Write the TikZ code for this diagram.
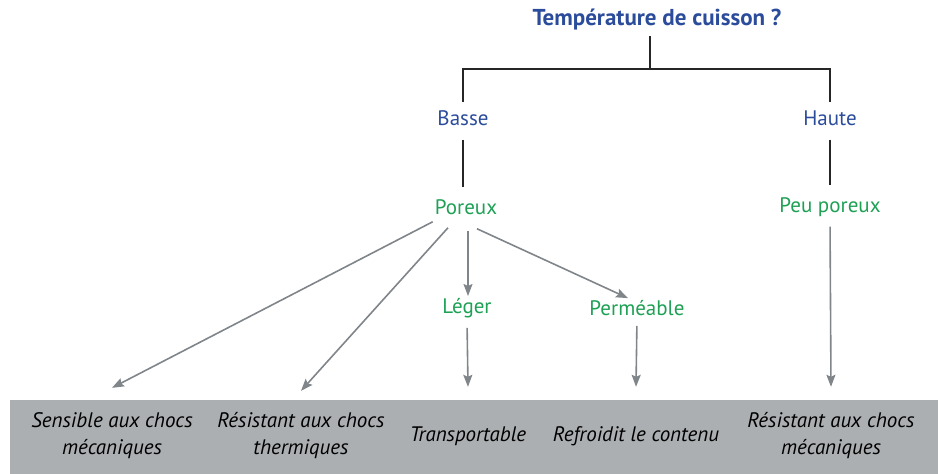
\documentclass[tikz,border=0pt]{standalone}
\usepackage{fontspec}
\setmainfont{PT Sans}
\usepackage{tikz}
\usetikzlibrary{arrows.meta, positioning}

\definecolor{bleutitre}{RGB}{43,75,155}
\definecolor{vertprop}{RGB}{30,160,85}
\definecolor{grisfleche}{RGB}{128,133,137}
\definecolor{grisbande}{RGB}{171,175,177}

\begin{document}
\begin{tikzpicture}[
    x=1pt, y=-1pt,
    % Text styles
    question/.style={font=\fontsize{23}{26}\selectfont\bfseries, text=bleutitre, inner sep=2pt},
    niveau/.style={font=\fontsize{21}{25}\selectfont, text=bleutitre, inner sep=2pt},
    propriete/.style={font=\fontsize{21}{25}\selectfont, text=vertprop, inner sep=2pt},
    consequence/.style={
        font=\fontsize{21}{27}\selectfont\itshape,
        align=center,
        minimum height=72pt,
        inner sep=0pt
    },
    % Connector styles
    trait/.style={draw=black!85, line width=1.6pt},
    fleche/.style={
        draw=grisfleche,
        line width=1.6pt,
        -{Stealth[length=12pt, width=9pt, inset=2pt]}
    }
]
\useasboundingbox (0,0) rectangle (938,474);

% Grey band behind the consequences
\fill[grisbande] (10,400) rectangle (938,474);

% Question and answers
\node (question) at (657,20) [question] {Température de cuisson ?};
\node (basse) at (463,118) [niveau] {Basse};
\node (haute) at (830,118) [niveau] {Haute};
\coordinate (fourche) at (650,69);

% Properties
\node (poreux) at (466,207) [propriete] {Poreux};
\node (peuporeux) at (830,207) [propriete] {Peu poreux};
\node (leger) at (467,308) [propriete] {Léger};
\node (permeable) at (637,308) [propriete] {Perméable};

% Consequences
\node (sensible) at (112,436) [consequence] {Sensible aux chocs\\mécaniques};
\node (thermique) at (301,436) [consequence] {Résistant aux chocs\\thermiques};
\node (transport) at (468,436) [consequence] {Transportable};
\node (refroidit) at (636,436) [consequence] {Refroidit le contenu};
\node (mecanique) at (831,436) [consequence] {Résistant aux chocs\\mécaniques};

% Bracket
\draw[trait, shorten <=3pt] (question.south -| fourche) -- (fourche);
\draw[trait, shorten <=6pt] (basse.north) |- (fourche) -| ([yshift=6pt]haute.north);
\draw[trait, shorten <=12pt, shorten >=10pt] (basse.south) -- (basse.south |- poreux.north);
\draw[trait, shorten <=12pt, shorten >=10pt] (haute.south) -- (haute.south |- peuporeux.north);

% Arrows
\draw[fleche] ([yshift=-5pt]poreux.south west) -- ([yshift=12pt]sensible.north);
\draw[fleche] ([xshift=-18pt,yshift=-11pt]poreux.south) -- ([yshift=9pt]thermique.north);
\draw[fleche] ([xshift=2pt,yshift=-14pt]poreux.south) -- ([xshift=1pt]leger.north);
\draw[fleche] ([xshift=11pt,yshift=-12pt]poreux.south) -- ([xshift=-9pt]permeable.north);
\draw[fleche, shorten <=8pt] (leger.south) -- ([yshift=13pt]transport.north);
\draw[fleche, shorten <=8pt] (permeable.south) -- ([yshift=13pt]refroidit.north);
\draw[fleche, shorten <=8pt] (peuporeux.south) -- ([yshift=13pt]mecanique.north);
\end{tikzpicture}
\end{document}
